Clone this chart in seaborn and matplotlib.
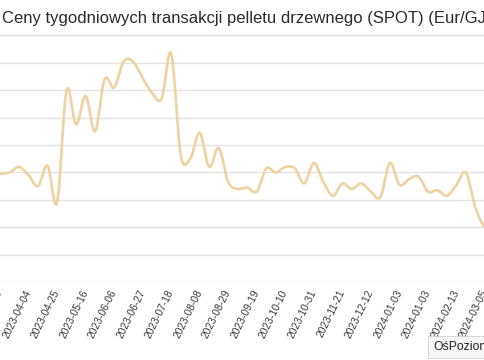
import numpy as np
import matplotlib
matplotlib.use('Agg')
import matplotlib.pyplot as plt
from matplotlib.lines import Line2D
import seaborn as sns

# Ceny tygodniowe (Eur/GJ)
prices = [17.9, 18.0, 18.4, 17.8, 17.0, 18.5, 15.8, 24.0, 21.5, 23.6,
          21.0, 24.8, 24.2, 26.1, 26.1, 24.9, 23.8, 23.4, 26.7, 19.3,
          19.0, 20.9, 18.4, 19.8, 17.3, 16.8, 16.9, 16.6, 18.3, 18.0,
          18.4, 18.3, 17.2, 18.7, 17.3, 16.3, 17.2, 16.8, 17.2, 16.6,
          16.2, 18.7, 17.1, 17.5, 17.7, 16.6, 16.7, 16.3, 17.1, 18.0,
          15.4, 14.0]

# Etykiety osi X (co trzeci tydzień)
tick_labels = ['2023-03-14', '2023-04-04', '2023-04-25', '2023-05-16',
               '2023-06-06', '2023-06-27', '2023-07-18', '2023-08-08',
               '2023-08-29', '2023-09-19', '2023-10-10', '2023-10-31',
               '2023-11-21', '2023-12-12', '2024-01-03', '2024-01-03',
               '2024-02-13', '2024-03-05']

title = 'Ceny tygodniowych transakcji pelletu drzewnego (SPOT) (Eur/GJ)'
y_ticks = [10, 12, 14, 16, 18, 20, 22, 24, 26]


# Wygładzenie linii (jak "smooth" w oryginalnym wykresie) - spline Catmull-Rom
def smooth(y, n=12):
    y = np.asarray(y, dtype=float)
    p = np.concatenate([[y[0]], y, [y[-1]]])
    xs, ys = [], []
    for i in range(len(y) - 1):
        p0, p1, p2, p3 = p[i], p[i + 1], p[i + 2], p[i + 3]
        t = np.linspace(0, 1, n, endpoint=False)
        seg = 0.5 * ((2 * p1) + (-p0 + p2) * t
                     + (2 * p0 - 5 * p1 + 4 * p2 - p3) * t ** 2
                     + (-p0 + 3 * p1 - 3 * p2 + p3) * t ** 3)
        xs.append(i + t)
        ys.append(seg)
    xs.append([len(y) - 1])
    ys.append([y[-1]])
    return np.concatenate(xs), np.concatenate(ys)


sns.set_style('white')
plt.rcParams['font.family'] = ['Liberation Sans', 'DejaVu Sans']

fig = plt.figure(figsize=(4.85, 3.6), dpi=100)
ax = fig.add_axes([0.0, 78 / 360, 1.0, 242 / 360])

xs, ys = smooth(prices)
sns.lineplot(x=xs, y=ys, ax=ax, color='#eed2a2', linewidth=1.9, sort=False)

ax.set_xlim(0, 485 / 9.69)
ax.set_ylim(10, 10 + 242 / 13.69)
ax.set_yticks(y_ticks)
ax.set_xticks(list(range(0, len(prices), 3)))
ax.set_xticklabels(tick_labels, rotation=64, ha='right', va='center',
                   rotation_mode='anchor', fontsize=7.4, color='#3a3a3a')
ax.tick_params(axis='x', length=0, pad=6)
ax.tick_params(axis='y', length=0, labelleft=False)
ax.grid(axis='y', color='#e3e3e3', linewidth=1)
ax.grid(axis='x', visible=False)
for s in ax.spines.values():
    s.set_visible(False)

fig.text(2 / 485, 1 - 18 / 360, title, fontsize=12, color='#2b2b2b',
         ha='left', va='center')
fig.add_artist(Line2D([0, 1], [1 - 35 / 360, 1 - 35 / 360],
                      color='#e2e2e2', linewidth=1))

fig.text(433 / 485, 1 - 347 / 360, 'OśPozioma', fontsize=8.8, color='#222222',
         ha='left', va='center',
         bbox=dict(boxstyle='square,pad=0.4', fc='#f6f6f6', ec='#d0d0d0', lw=0.6))

plt.savefig('out.png', dpi=100)
